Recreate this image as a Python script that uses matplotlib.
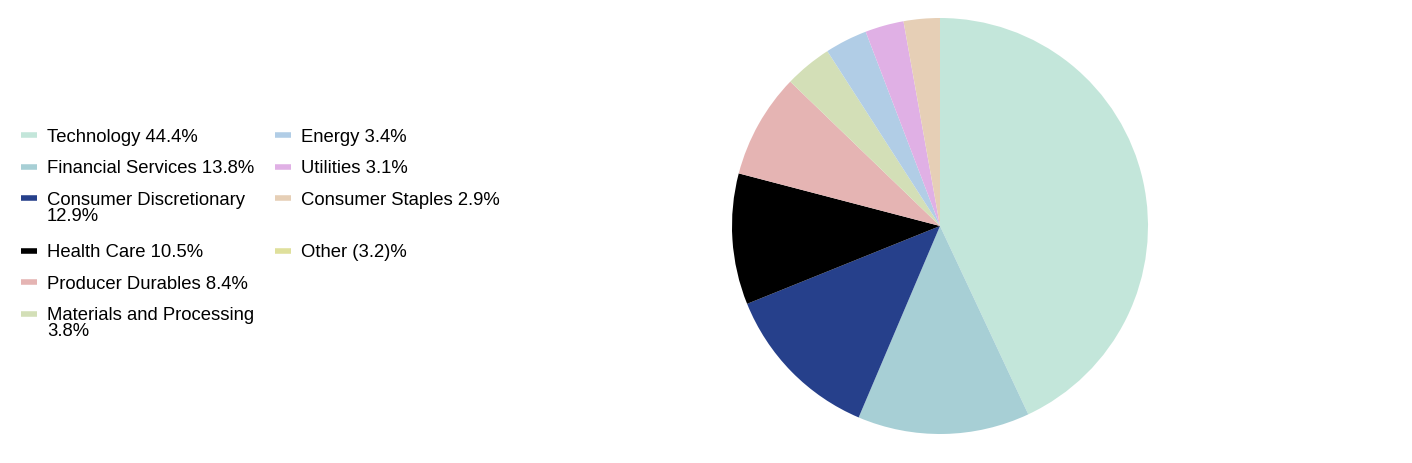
import matplotlib.pyplot as plt
from matplotlib.lines import Line2D

plt.rcParams['font.family'] = ['Liberation Sans', 'DejaVu Sans']

sectors = ['Technology', 'Financial Services', 'Consumer Discretionary', 'Health Care',
           'Producer Durables', 'Materials and Processing', 'Energy', 'Utilities',
           'Consumer Staples', 'Other']
weights = [44.4, 13.8, 12.9, 10.5, 8.4, 3.8, 3.4, 3.1, 2.9, -3.2]
labels = ['Technology 44.4%', 'Financial Services 13.8%', 'Consumer Discretionary\n12.9%',
          'Health Care 10.5%', 'Producer Durables 8.4%', 'Materials and Processing\n3.8%',
          'Energy 3.4%', 'Utilities 3.1%', 'Consumer Staples 2.9%', 'Other (3.2)%']
colors = ['#c3e6da', '#a7cfd5', '#26408b', '#000000', '#e5b4b3', '#d3dfb7',
          '#b1cde6', '#e0b0e5', '#e6cfb6', '#dfe09c']

W, H = 1412, 464
fig = plt.figure(figsize=(W / 100, H / 100), dpi=100)

# pie: centre (940, 227), radius 208 px
cx, cy, r = 940, 227, 208
ax = fig.add_axes([(cx - r) / W, (H - cy - r) / H, 2 * r / W, 2 * r / H])
pos = [(w, c) for w, c in zip(weights, colors) if w > 0]
ax.pie([p[0] for p in pos], colors=[p[1] for p in pos], startangle=90,
       counterclock=False, radius=1, wedgeprops=dict(linewidth=0))
ax.set_xlim(-1, 1)
ax.set_ylim(-1, 1)
ax.set_aspect('equal')
ax.axis('off')

# legend laid out as a two-column grid (6 rows in col 1, 4 in col 2)
fs = 13.3
col_x = [(21, 37, 47), (275, 291, 301)]
base0, pitch, extra = 141.5, 31.7, 20.5
rows_per_col = 6
row_base = []
b = base0
for i in range(rows_per_col):
    row_base.append(b)
    lines = max(labels[j].count('\n') for j in (i, i + rows_per_col) if j < len(labels))
    b += pitch + extra * lines

for k, (lab, col) in enumerate(zip(labels, colors)):
    c, rr = divmod(k, rows_per_col)
    hx0, hx1, tx = col_x[c]
    yb = row_base[rr]
    yh = yb - 5.5
    fig.add_artist(Line2D([hx0 / W, hx1 / W], [1 - yh / H, 1 - yh / H],
                          color=col, lw=4, solid_capstyle='butt',
                          transform=fig.transFigure))
    fig.text(tx / W, 1 - yb / H, lab.split('\n')[0], fontsize=fs, va='baseline', ha='left')
    for n, extra_line in enumerate(lab.split('\n')[1:], start=1):
        fig.text(tx / W, 1 - (yb + 16 * n) / H, extra_line, fontsize=fs,
                 va='baseline', ha='left')

fig.savefig('out.png', dpi=100)
